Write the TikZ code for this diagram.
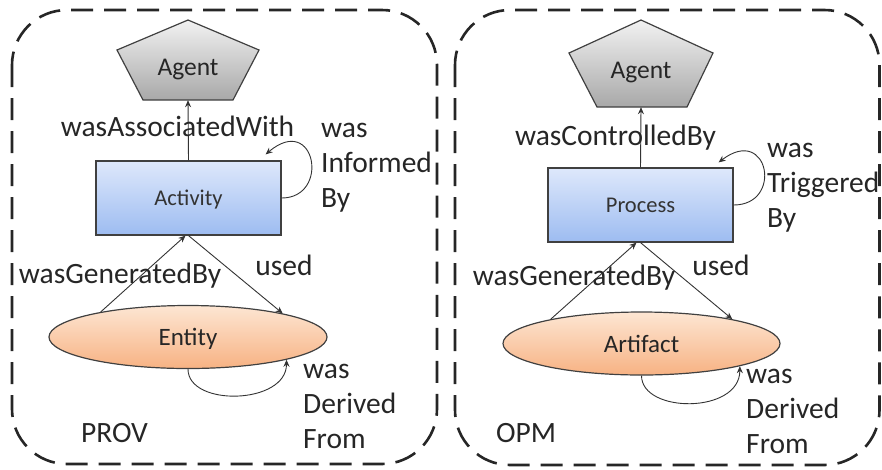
\documentclass[tikz,border=0pt]{standalone}
\usepackage{fontspec}
\setmainfont{Carlito}
\usetikzlibrary{shapes.geometric,arrows.meta,calc}
\definecolor{agtop}{HTML}{F2F2F2}
\definecolor{agbot}{HTML}{A8A8A8}
\definecolor{actop}{HTML}{DEE8FB}
\definecolor{acbot}{HTML}{9DBCF1}
\definecolor{entop}{HTML}{FDE6D3}
\definecolor{enbot}{HTML}{F7B283}
\definecolor{outl}{HTML}{404040}
\definecolor{txt}{HTML}{262626}
\begin{document}
\begin{tikzpicture}[x=1pt,y=-1pt,
  frame/.style={draw=black!85, line width=2.6pt, dash pattern=on 22pt off 11pt, rounded corners=55pt},
  agentshape/.style={draw=outl, line width=1.2pt, top color=agtop, bottom color=agbot},
  agenttext/.style={inner sep=0pt, minimum width=142pt, font=\fontsize{25.5}{30}\selectfont, text=txt},
  actbox/.style={rectangle, draw=outl, line width=1.2pt, top color=actop, bottom color=acbot,
    minimum width=185pt, minimum height=74pt, inner sep=0pt, text depth=0pt,
    font=\fontsize{22.5}{27}\selectfont, text=black!80},
  entbox/.style={ellipse, draw=outl, line width=1.2pt, top color=entop, bottom color=enbot,
    minimum width=278pt, minimum height=63pt, inner sep=0pt, text depth=0pt,
    font=\fontsize{25}{30}\selectfont, text=txt},
  lab/.style={inner sep=0pt, anchor=base, font=\fontsize{29.5}{35}\selectfont, text=txt},
  mlab/.style={inner sep=0pt, anchor=base west, align=left, font=\fontsize{29.5}{35}\selectfont, text=txt},
  arr/.style={draw=black!80, line width=0.9pt, -{Stealth[length=7pt,width=6pt]}}
]
\useasboundingbox (0,0) rectangle (882,469);
% frames
\draw[frame] (12,10) rectangle (437,464);
\draw[frame] (455,10) rectangle (879.5,465);

% ---------- PROV ----------
\path[agentshape] (188,20) -- (259,50) -- (233,100) -- (143,100) -- (117,50) -- cycle;
\node[agenttext, minimum height=60pt] (agL) at (188,70) {Agent};
\node[actbox] (actL) at (188.5,198) {Activity};
\node[entbox] (entL) at (188,337) {Entity};

\draw[arr] (actL.north) -- (agL.south);
\draw[arr] (entL.164) -- ($(actL.south)+(-3,0)$);
\draw[arr] (actL.south) -- (entL.14);
\draw[arr] (actL.east) .. controls +(49,0) and +(50,-42) .. ($(actL.north east)+(-16,-6)$);
\draw[arr] (entL.south) .. controls +(0,38) and +(0,45) .. (entL.-13);

\node[lab] (lAssoc) at (177.5,136) {wasAssociatedWith};
\node[lab] (lGenL) at (120,283) {wasGeneratedBy};
\node[lab] (lUsedL) at (284,275) {used};
\node[mlab] (lInf) at (321,207) {was\\Informed\\By};
\node[mlab] (lDerL) at (303,448) {was\\Derived\\From};
\node[lab] (lProv) at (114.5,442) {PROV};

% ---------- OPM ----------
\path[agentshape] (641,20) -- (713,53) -- (687,107) -- (597,107) -- (569,53) -- cycle;
\node[agenttext, minimum height=68pt] (agR) at (641,73) {Agent};
\node[actbox] (procR) at (640.5,205) {Process};
\node[entbox, minimum width=277pt] (artR) at (641.5,343.5) {Artifact};

\draw[arr] (procR.north) -- (agR.south);
\draw[arr] (artR.165) -- ($(procR.south)+(-4,0)$);
\draw[arr] (procR.south) -- (artR.15);
\draw[arr] (procR.east) .. controls +(50,0) and +(50,-38) .. ($(procR.north east)+(-15,-5)$);
\draw[arr] (artR.south) .. controls +(0,38) and +(0,48) .. (artR.-13);

\node[lab] (lCtrl) at (615.5,145) {wasControlledBy};
\node[lab] (lGenR) at (574,285) {wasGeneratedBy};
\node[lab] (lUsedR) at (721,275) {used};
\node[mlab] (lTrig) at (767,227) {was\\Triggered\\By};
\node[mlab] (lDerR) at (746,453) {was\\Derived\\From};
\node[lab] (lOpm) at (526,442) {OPM};
\end{tikzpicture}
\end{document}
